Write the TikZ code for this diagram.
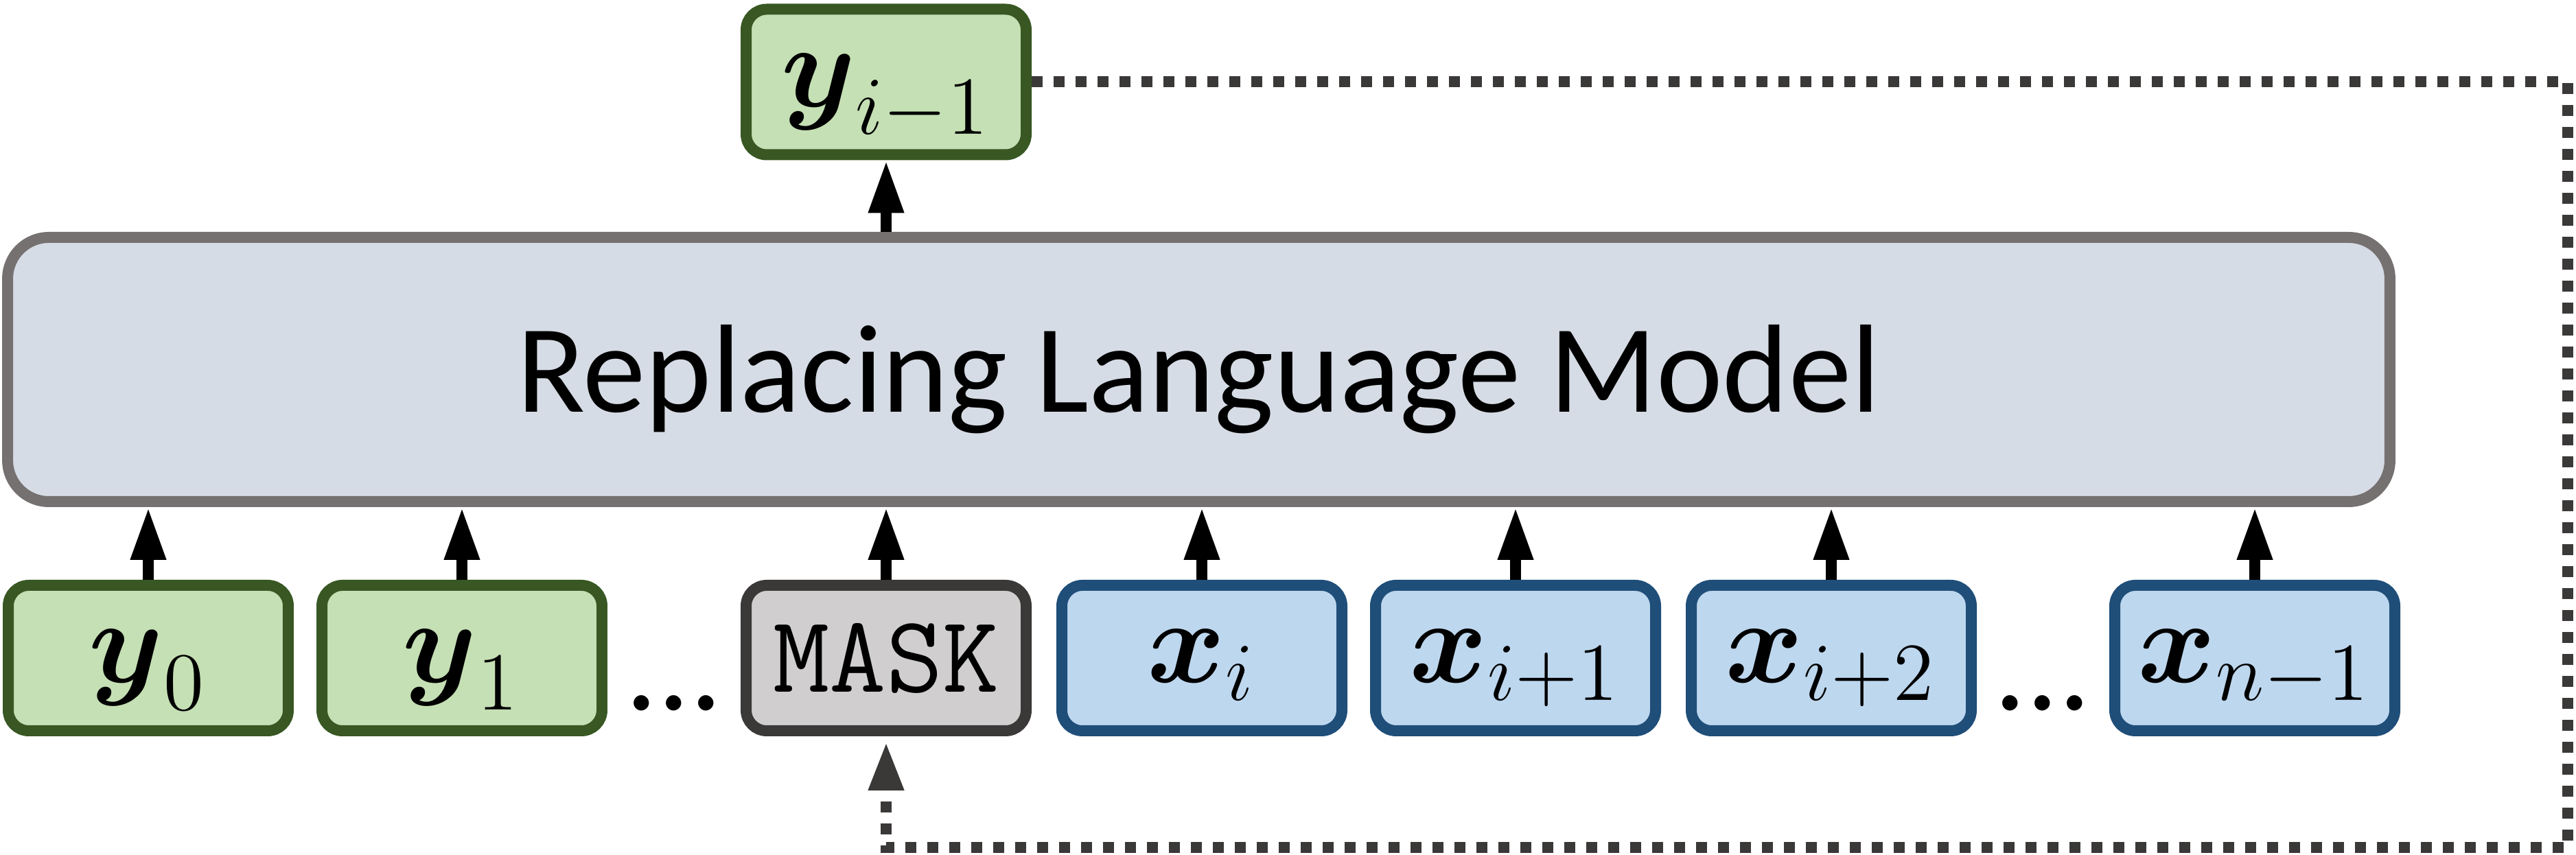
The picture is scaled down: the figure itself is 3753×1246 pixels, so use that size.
\documentclass[tikz,border=0pt]{standalone}
\usepackage{amsmath}
\usepackage{fontspec}
\newfontfamily\carlito{Carlito}
\usetikzlibrary{arrows.meta}
\definecolor{gfill}{HTML}{C5E0B4}
\definecolor{gdraw}{HTML}{385723}
\definecolor{bfill}{HTML}{BDD7EE}
\definecolor{bdraw}{HTML}{1F4E79}
\definecolor{mfill}{HTML}{D0CECE}
\definecolor{mdraw}{HTML}{3B3838}
\definecolor{lmfill}{HTML}{D6DCE5}
\definecolor{lmdraw}{HTML}{767171}
\definecolor{fbcol}{HTML}{3B3838}
\begin{document}
\begin{tikzpicture}[x=0.1pt,y=-0.1pt,
  tok/.style={draw, line width=1.6pt, rounded corners=3pt, minimum width=40.8pt,
    minimum height=21.2pt, inner sep=0pt},
  mathtok/.style={tok, font=\fontsize{17}{20}\selectfont, text height=9pt, text depth=1.8pt},
  ytok/.style={mathtok, fill=gfill, draw=gdraw},
  xtok/.style={mathtok, fill=bfill, draw=bdraw},
  masktok/.style={tok, fill=mfill, draw=mdraw, font=\fontsize{16}{19}\selectfont\ttfamily},
  lmbox/.style={draw=lmdraw, fill=lmfill, line width=1.6pt, rounded corners=6pt,
    minimum width=347.1pt, minimum height=38.5pt, inner sep=0pt,
    font=\carlito\fontsize{18.3}{22}\selectfont, text height=12.5pt, text depth=0pt},
  dotsnode/.style={font=\carlito\fontsize{18.5}{22}\selectfont, inner sep=0pt, anchor=base},
  arr/.style={line width=1.6pt, -{Triangle[width=4.8pt,length=7.7pt]}},
  feed/.style={draw=fbcol, line width=1.6pt, dash pattern=on 1.6pt off 1.6pt,
    -{Triangle[width=4.8pt,length=7.1pt]}, shorten >=0.8pt}
]
\useasboundingbox (0,0) rectangle (3753,1246);

\node[lmbox] (lm) at (1746.5,538.5) {Replacing Language Model};

\node[ytok] (yim1) at (1291,119.5) {$\boldsymbol{y}_{i-1}$};

\node[ytok] (y0) at (216,959) {$\boldsymbol{y}_0$};
\node[ytok] (y1) at (673,959) {$\boldsymbol{y}_1$};
\node[dotsnode] (d1) at (982,1035) {...};
\node[masktok] (mask) at (1291,959) {MASK};
\node[xtok] (xi) at (1751,959) {$\boldsymbol{x}_i$};
\node[xtok] (xi1) at (2208,959) {$\boldsymbol{x}_{i+1}$};
\node[xtok] (xi2) at (2668,959) {$\boldsymbol{x}_{i+2}$};
\node[dotsnode] (d2) at (2976,1035) {...};
\node[xtok] (xn) at (3285,959) {$\boldsymbol{x}_{n-1}$};

\foreach \n in {y0,y1,mask,xi,xi1,xi2,xn}
  \draw[arr] (\n.north) -- (\n.north |- lm.south);
\draw[arr] (lm.north -| yim1) -- (yim1.south);

\coordinate (c1) at (3741,119.5);
\coordinate (c2) at (3741,1235.5);
\coordinate (c3) at (1291,1235.5);
\draw[feed] (yim1.east) -- (c1) -- (c2) -- (c3) -- (mask.south);
\end{tikzpicture}
\end{document}
